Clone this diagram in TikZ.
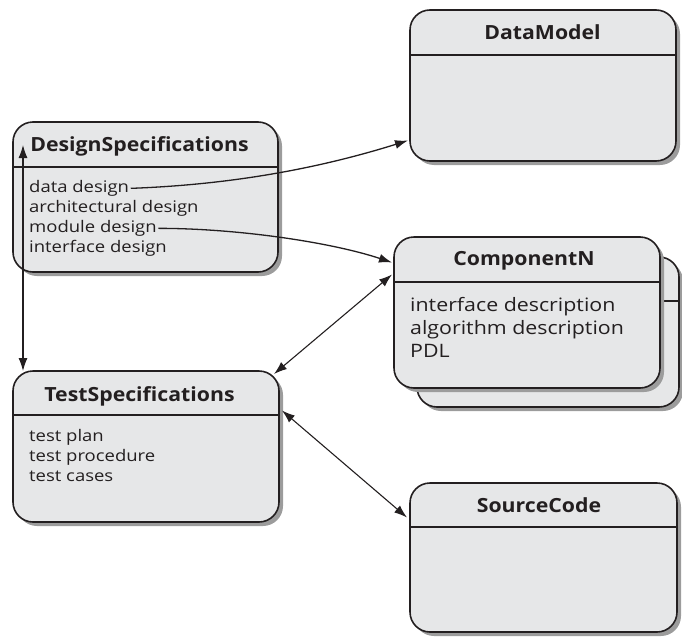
\documentclass[tikz,border=0pt]{standalone}
\usepackage{fontspec}
\setmainfont{Open Sans}[Ligatures=NoCommon]
\newfontfamily\itemfont{Open Sans}[Ligatures=NoCommon, FakeStretch=1.155]
\newfontfamily\titlefont{Open Sans}[Ligatures=NoCommon, FakeStretch=1.09]
\usetikzlibrary{shadows,calc,arrows.meta}
\definecolor{boxfill}{HTML}{E6E7E8}
\definecolor{ink}{HTML}{231F20}
\definecolor{shade}{HTML}{9C9C9C}
\begin{document}
\begin{tikzpicture}[x=1pt,y=-1pt,
  card/.style={draw=ink, line width=1.6pt, fill=boxfill, rounded corners=20pt,
    inner sep=0pt, outer sep=0pt, anchor=north west,
    drop shadow={shadow xshift=4pt, shadow yshift=-4pt, fill=shade, opacity=1}},
  rule/.style={draw=ink, line width=1.2pt},
  title/.style={anchor=base, inner sep=0pt, text=ink, font=\titlefont\bfseries\fontsize{19.5}{19.5}\selectfont},
  item/.style={anchor=base west, inner sep=1.5pt, text=ink, font=\itemfont\fontsize{16}{16}\selectfont},
  bigitem/.style={anchor=base west, inner sep=1.5pt, text=ink, font=\itemfont\fontsize{18.5}{18.5}\selectfont},
  conn/.style={draw=ink, line width=1.3pt, -{Latex[length=13pt,width=9pt]}},
  dbl/.style={draw=ink, line width=1.1pt, {Latex[length=13pt,width=9pt]}-{Latex[length=13pt,width=9pt]}}]
\useasboundingbox (0,0) rectangle (682,637);

% boxes
\node[card, minimum width=266pt, minimum height=151pt] (dm) at (410,10) {};
\draw[rule] ($(dm.north west)+(0,45)$) -- ($(dm.north east)+(0,45)$);

\node[card, minimum width=265pt, minimum height=150pt] (ds) at (13,122) {};
\draw[rule] ($(ds.north west)+(0,45)$) -- ($(ds.north east)+(0,45)$);

\node[card, minimum width=262pt, minimum height=150pt] (cnb) at (417,257) {};
\draw[rule] ($(cnb.north west)+(0,44)$) -- ($(cnb.north east)+(0,44)$);
\node[card, minimum width=266pt, minimum height=151pt] (cn) at (394,237) {};
\draw[rule] ($(cn.north west)+(0,45)$) -- ($(cn.north east)+(0,45)$);

\node[card, minimum width=266pt, minimum height=151pt] (ts) at (13,371) {};
\draw[rule] ($(ts.north west)+(0,44)$) -- ($(ts.north east)+(0,44)$);

\node[card, minimum width=267pt, minimum height=149pt] (sc) at (410,483) {};
\draw[rule] ($(sc.north west)+(0,44)$) -- ($(sc.north east)+(0,44)$);

% titles
\node[title] (dmt) at (542.5,39) {DataModel};
\node[title] (dst) at (139.5,151) {DesignSpecifications};
\node[title] (cnt) at (524,265) {ComponentN};
\node[title] (tst) at (139.5,401) {TestSpecifications};
\node[title] (sct) at (539,512) {SourceCode};

% items
\node[item] (dd) at (27.5,192.5) {data design};
\node[item] (ad) at (27.5,212.5) {architectural design};
\node[item] (md) at (27.5,232.5) {module design};
\node[item] (id) at (27.5,252.5) {interface design};

\node[bigitem] (ifd) at (408.5,311.5) {interface description};
\node[bigitem] (ald) at (408.5,334.5) {algorithm description};
\node[bigitem] (pdl) at (408.5,357.5) {PDL};

\node[item] (tp) at (27.5,441.5) {test plan};
\node[item] (tpr) at (27.5,461.5) {test procedure};
\node[item] (tc) at (27.5,481.5) {test cases};

% connectors
\draw[conn] (dd.east) .. controls +(110,-4) and +(-80,25) .. ($(dm.west)+(-2,55)$);
\draw[conn] (md.east) .. controls +(80,0) and +(-60,-20) .. ($(cn.west)+(-2,-50)$);
\draw[dbl] ($(ts.north west)+(10,0)$) -- ($(ds.north west)+(10,23)$);
\draw[dbl] ($(ts.north east)+(-5,3)$) -- ($(cn.west)+(-2,-38)$);
\draw[dbl] ($(ts.east)+(3,-36)$) -- ($(sc.west)+(-3,-40)$);
\end{tikzpicture}
\end{document}
